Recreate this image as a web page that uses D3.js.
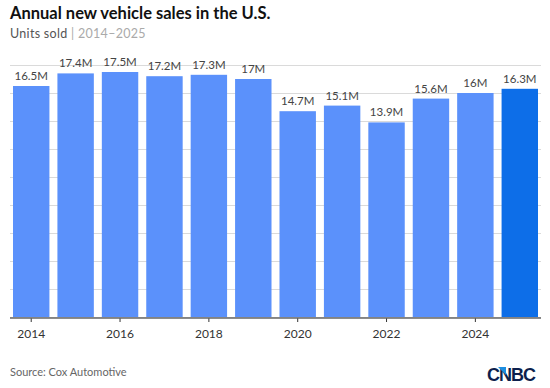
<!DOCTYPE html>
<html>
<head>
<meta charset="utf-8">
<script src="https://cdn.jsdelivr.net/npm/d3@7"></script>
<style>
  body { margin: 0; background: #fff; }
  svg { font-family: Lato, "Open Sans", sans-serif; }
</style>
</head>
<body>
<script>
const years = [2014, 2015, 2016, 2017, 2018, 2019, 2020, 2021, 2022, 2023, 2024, 2025];
const sales = [16.5, 17.4, 17.5, 17.2, 17.3, 17.0, 14.7, 15.1, 13.9, 15.6, 16.0, 16.3];
const salesLabels = ["16.5M", "17.4M", "17.5M", "17.2M", "17.3M", "17M", "14.7M", "15.1M", "13.9M", "15.6M", "16M", "16.3M"];
const gridValues = [0, 2, 4, 6, 8, 10, 12, 14, 16, 18];
const tickYears = [2014, 2016, 2018, 2020, 2022, 2024];

const w = 550, h = 388;
const svg = d3.select("body").append("svg")
    .attr("width", w)
    .attr("height", h);

const x = d3.scaleBand()
    .domain(years)
    .range([13, 538])
    .paddingInner(0.18)
    .paddingOuter(0.0);

const y = d3.scaleLinear()
    .domain([0, 18])
    .range([317, 65]);

// title block
svg.append("text")
    .attr("x", 10).attr("y", 19)
    .attr("font-size", 16.5).attr("font-weight", 700)
    .attr("fill", "#111")
    .text("Annual new vehicle sales in the U.S.");

const sub = svg.append("text")
    .attr("x", 10).attr("y", 38)
    .attr("font-size", 12.5)
    .attr("letter-spacing", 0.3);
sub.append("tspan").attr("fill", "#555").text("Units sold ");
sub.append("tspan").attr("fill", "#aaa").text("| 2014\u20132025");

// gridlines
svg.append("g")
    .selectAll("line")
    .data(gridValues)
    .join("line")
    .attr("x1", 10).attr("x2", 541)
    .attr("y1", d => y(d) + 0.5).attr("y2", d => y(d) + 0.5)
    .attr("stroke", "#dadada")
    .attr("stroke-width", 1);

// bars
svg.append("g")
    .selectAll("rect")
    .data(years)
    .join("rect")
    .attr("x", d => x(d))
    .attr("width", x.bandwidth())
    .attr("y", (d, i) => y(sales[i]))
    .attr("height", (d, i) => y(0) - y(sales[i]))
    .attr("fill", (d, i) => i === years.length - 1 ? "#0d6ee8" : "#5b91fb");

// value labels
svg.append("g")
    .selectAll("text")
    .data(years)
    .join("text")
    .attr("x", d => x(d) + x.bandwidth() / 2)
    .attr("y", (d, i) => y(sales[i]) - 6)
    .attr("text-anchor", "middle")
    .attr("font-size", 11.5)
    .attr("fill", "#444")
    .text((d, i) => salesLabels[i]);

// x axis
const xAxis = svg.append("g")
    .attr("transform", "translate(0," + 318 + ")")
    .call(d3.axisBottom(x).tickValues(tickYears).tickSize(4).tickPadding(7).tickSizeOuter(0));
xAxis.select(".domain").remove();
xAxis.append("line")
    .attr("x1", 10).attr("x2", 541)
    .attr("y1", 0).attr("y2", 0)
    .attr("stroke", "#666").attr("stroke-width", 1.5);
xAxis.selectAll(".tick line").attr("stroke", "#333");
xAxis.selectAll(".tick text")
    .attr("font-family", "Lato, 'Open Sans', sans-serif")
    .attr("font-size", 12)
    .attr("fill", "#333");

// source
svg.append("text")
    .attr("x", 10).attr("y", 376)
    .attr("font-size", 11)
    .attr("fill", "#666")
    .text("Source: Cox Automotive");

// logo
const logo = svg.append("g").attr("transform", "translate(487,381)");
logo.append("text")
    .attr("x", 0).attr("y", 0)
    .attr("font-size", 18).attr("font-weight", 900)
    .attr("font-family", "'Liberation Sans', Arial, sans-serif")
    .attr("letter-spacing", -1)
    .attr("fill", "#0c1f4d")
    .text("CNBC");
logo.append("path")
    .attr("d", "M11,-14 L19,-14 L19,-6 Z")
    .attr("fill", "#1e8ee0");
</script>
</body>
</html>
